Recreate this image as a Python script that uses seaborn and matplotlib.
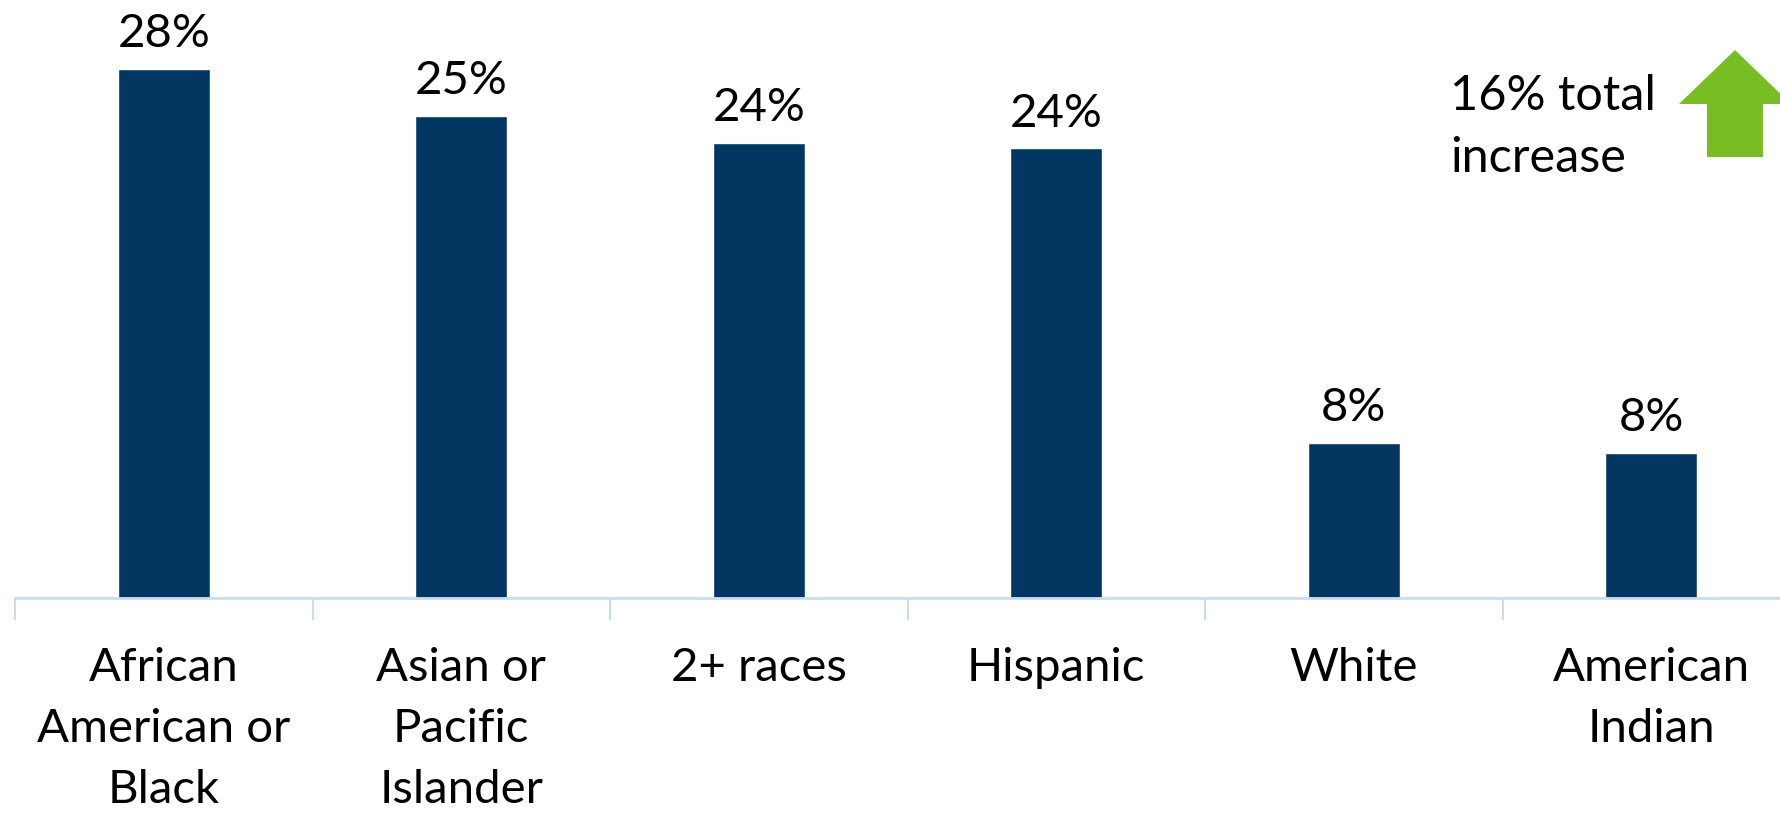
import matplotlib
matplotlib.use("Agg")
import matplotlib.pyplot as plt
import seaborn as sns
import pandas as pd
from matplotlib.patches import Polygon

categories = ["African\nAmerican or\nBlack", "Asian or\nPacific\nIslander", "2+ races",
              "Hispanic", "White", "American\nIndian"]
values = [28.0, 25.5, 24.1, 23.8, 8.2, 7.7]
value_labels = ["28%", "25%", "24%", "24%", "8%", "8%"]
note_text = "16% total\nincrease"

sns.set_theme(style="white")
plt.rcParams["font.family"] = ["Lato", "DejaVu Sans"]

W, H = 1780, 816
fig = plt.figure(figsize=(W / 100, H / 100), dpi=100)
ax = fig.add_axes([15 / W, (H - 598) / H, 6 * 297.5 / W, 598 / H])

df = pd.DataFrame({"cat": categories, "val": values})
sns.barplot(data=df, x="cat", y="val", color="#033762", width=0.31, ax=ax,
            saturation=1)
ax.set_ylim(0, 598 / 18.89)
ax.set_xlim(-0.5, len(categories) - 0.5)
ax.set_xlabel("")
ax.set_ylabel("")
ax.set_yticks([])
for s in ["top", "right", "left"]:
    ax.spines[s].set_visible(False)
axis_col = "#C5DEF5"
ax.spines["bottom"].set_color(axis_col)
ax.spines["bottom"].set_linewidth(2)

ax.bar_label(ax.containers[0], labels=value_labels, padding=10, fontsize=34, color="black")

ax.tick_params(axis="x", which="major", bottom=True, length=0, pad=35, labelsize=34,
               labelcolor="black")
for t in ax.get_xticklabels():
    t.set_linespacing(1.57)
ax.set_xticks([i - 0.5 for i in range(len(categories) + 1)], minor=True)
ax.tick_params(axis="x", which="minor", bottom=True, length=16, width=1.5,
               color=axis_col, direction="out")

fig.text(1450 / W, 1 - 74 / H, note_text, ha="left", va="top", fontsize=35,
         color="black", linespacing=1.5)

# green up arrow (figure pixel coords)
cx = 1735
pts = [(cx, 50), (cx + 56, 104), (1763, 104), (1763, 157), (1707, 157), (1707, 104), (cx - 56, 104)]
pts_fig = [(x / W, 1 - y / H) for x, y in pts]
fig.patches.append(Polygon(pts_fig, closed=True, transform=fig.transFigure,
                           facecolor="#79BD25", edgecolor="none"))

fig.savefig("out.png", dpi=100)
